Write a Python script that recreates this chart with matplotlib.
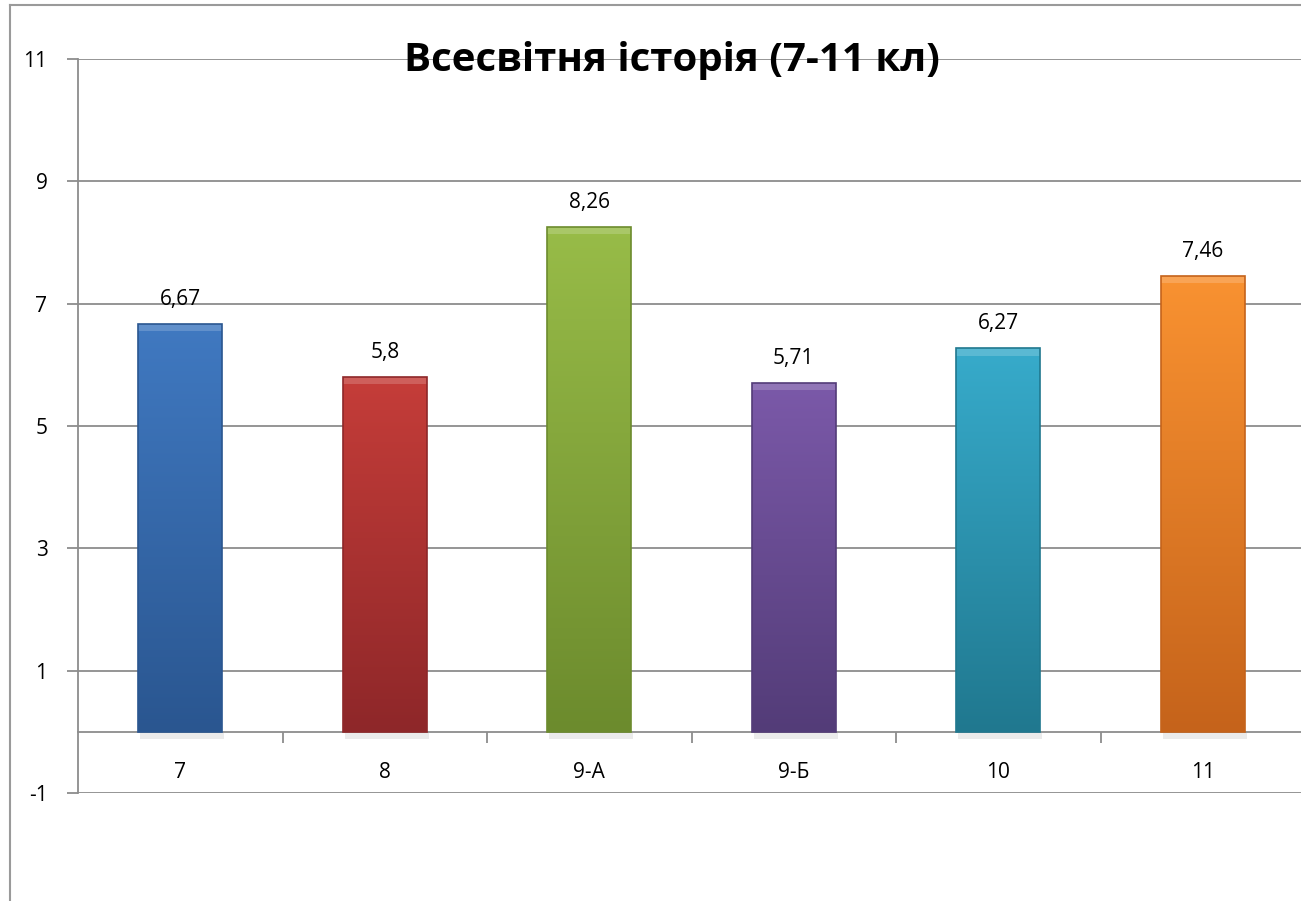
import numpy as np
import matplotlib.pyplot as plt
from matplotlib.colors import LinearSegmentedColormap
from matplotlib.patches import Rectangle

# --- DATA ---
classes = ["7", "8", "9-А", "9-Б", "10", "11"]
scores = [6.67, 5.8, 8.26, 5.71, 6.27, 7.46]
title = "Всесвітня історія (7-11 кл)"
y_ticks = [-1, 1, 3, 5, 7, 9, 11]

# верх / низ градієнта кожного стовпчика
top_colors = ["#4079C1", "#C53D39", "#98BC48", "#7B59A9", "#37ABCB", "#F99231"]
bottom_colors = ["#2A5690", "#8E2729", "#6C8B2D", "#533C78", "#20788F", "#C5631B"]

plt.rcParams['font.family'] = ['Open Sans', 'DejaVu Sans']

fig = plt.figure(figsize=(13.01, 9.01), dpi=100)
ax = fig.add_axes([78 / 1301, (901 - 793) / 901, (1305 - 78) / 1301, (793 - 59) / 901])

# рамка області діаграми (обрізана справа і знизу)
fig.add_artist(plt.Line2D([10 / 1301, 10 / 1301], [0, 1 - 5 / 901], transform=fig.transFigure,
                          color="#9A9A9A", lw=1.5))
fig.add_artist(plt.Line2D([10 / 1301, 1], [1 - 5 / 901, 1 - 5 / 901], transform=fig.transFigure,
                          color="#9A9A9A", lw=1.5))

x = np.arange(len(classes))
width = 0.41

bars = ax.bar(x, scores, width=width, color=top_colors, zorder=3, linewidth=0)
for i, b in enumerate(bars):
    x0, w, h = b.get_x(), b.get_width(), b.get_height()
    # тінь
    ax.add_patch(Rectangle((x0 + 0.01, -0.12), w, 0.12, facecolor="#000000", alpha=0.08,
                           linewidth=0, zorder=2))
    cmap = LinearSegmentedColormap.from_list("g%d" % i, [bottom_colors[i], top_colors[i]])
    grad = np.linspace(0, 1, 256).reshape(-1, 1)
    im = ax.imshow(grad, cmap=cmap, origin="lower", aspect="auto",
                   extent=(x0, x0 + w, 0, h), zorder=4)
    im.set_clip_path(b)
    # фаска зверху
    ax.add_patch(Rectangle((x0, h - 0.12), w, 0.12, facecolor="white", alpha=0.18,
                           linewidth=0, zorder=5))
    ax.add_patch(Rectangle((x0, 0), w, h, facecolor="none", edgecolor=bottom_colors[i],
                           linewidth=1.2, zorder=6))
    ax.annotate(str(scores[i]).replace(".", ","), (x[i], h), xytext=(0, 10),
                textcoords="offset points", ha="center", va="bottom", fontsize=15,
                color="black", zorder=7)

ax.set_xlim(-0.5, len(classes) - 0.5)
ax.set_ylim(-1, 11)

# осі
grid_c = "#8C8C8C"
ax.set_yticks(y_ticks)
ax.set_yticklabels([str(t) for t in y_ticks], fontsize=15)
ax.yaxis.grid(True, color=grid_c, lw=1.3, zorder=0)
ax.set_axisbelow(True)
ax.tick_params(axis="y", direction="out", length=8, width=1.3, color=grid_c, pad=14)

ax.spines["bottom"].set_position(("data", 0))
ax.spines["bottom"].set_color(grid_c)
ax.spines["bottom"].set_linewidth(1.3)
ax.spines["left"].set_color(grid_c)
ax.spines["left"].set_linewidth(1.3)
ax.spines["top"].set_visible(False)
ax.spines["right"].set_visible(False)

ax.set_xticks(np.arange(len(classes) - 1) + 0.5)
ax.set_xticklabels([])
ax.tick_params(axis="x", which="major", direction="out", length=8, width=1.3, color=grid_c)
ax.set_xticks(x, minor=True)
ax.set_xticklabels(classes, minor=True, fontsize=15)
ax.tick_params(axis="x", which="minor", length=0, pad=22)

fig.text(672 / 1301, 1 - 60 / 901, title, ha="center", va="center", fontsize=29,
         fontweight="bold", color="black")

fig.savefig("out.png", dpi=100, facecolor="white")
